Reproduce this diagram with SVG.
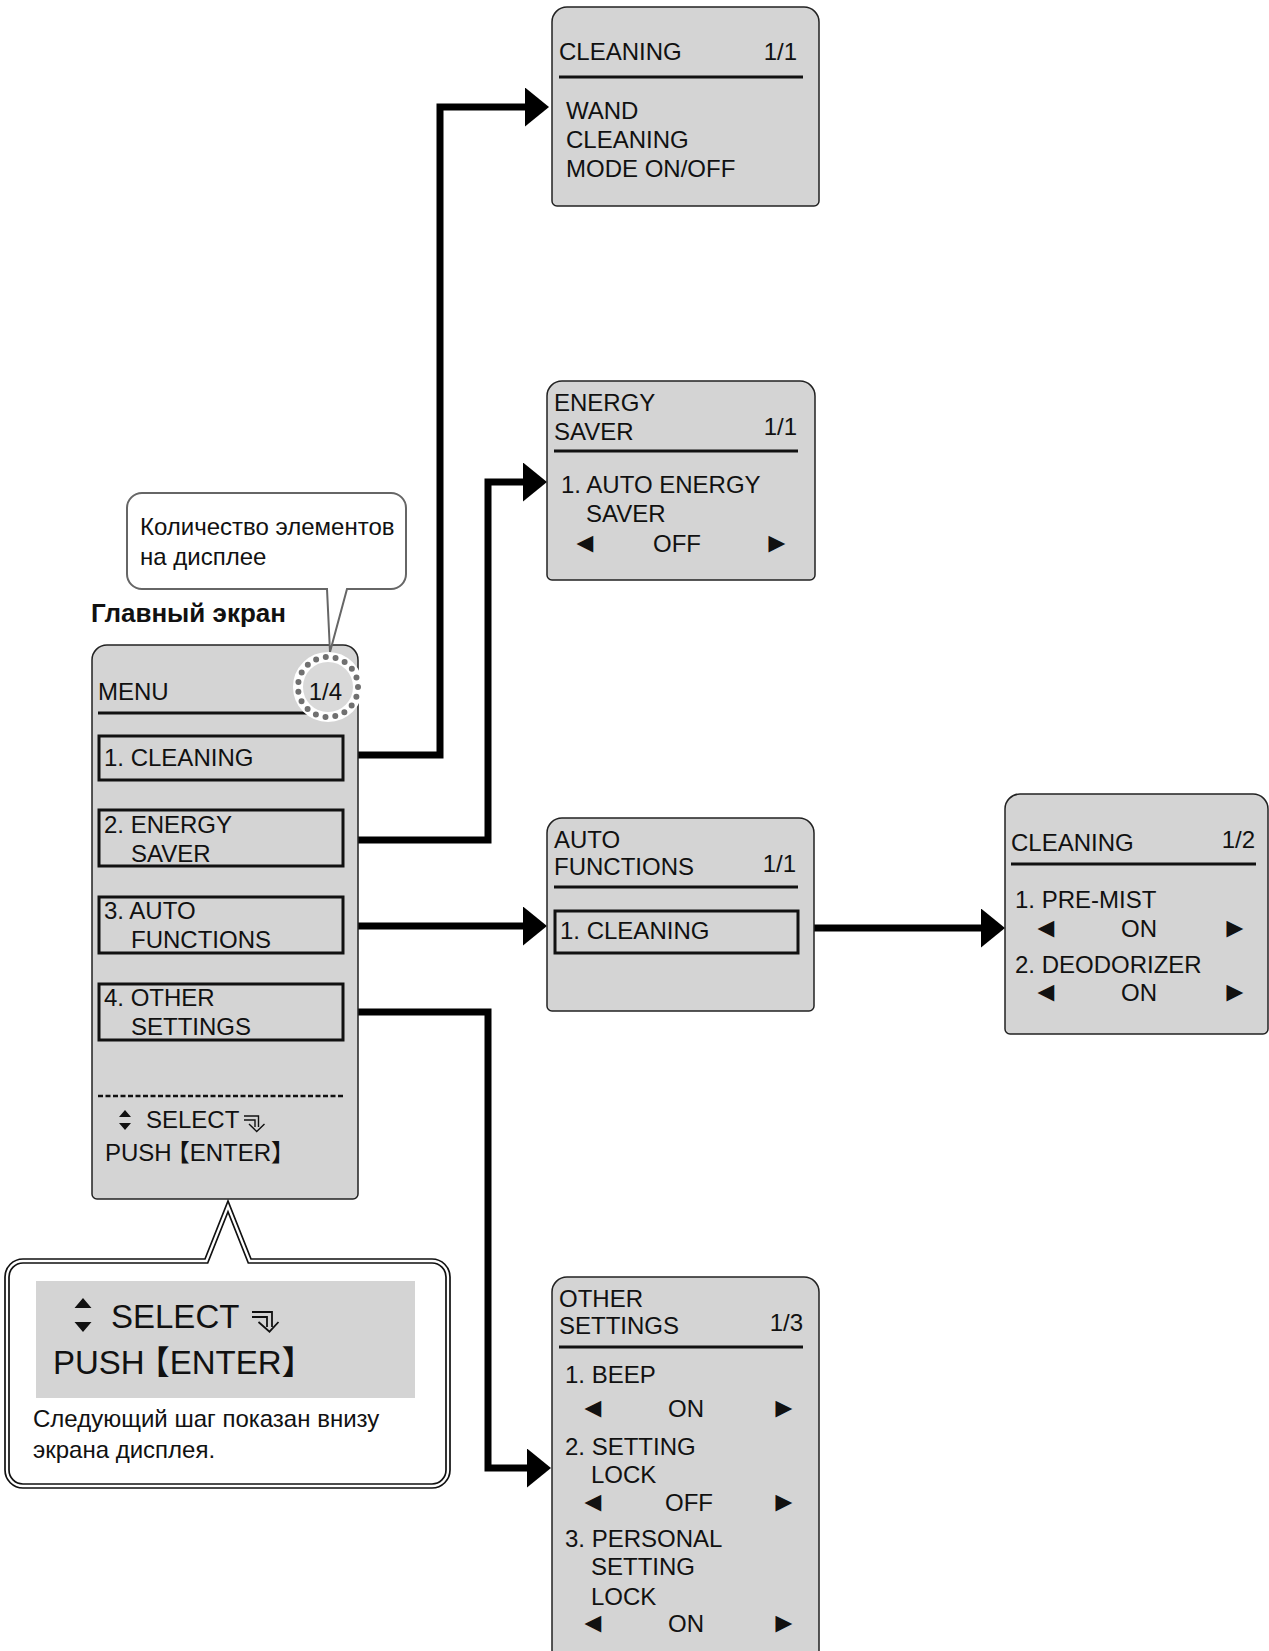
<svg xmlns="http://www.w3.org/2000/svg" width="1269" height="1651" viewBox="0 0 1269 1651">
<style>
.bg{fill:#ffffff}
.box{fill:#d4d4d4;stroke:#222;stroke-width:1.5}
.t{font-family:"Liberation Sans","Noto Sans CJK JP",sans-serif;font-size:24px;fill:#111}
.tri{font-family:"Liberation Sans","DejaVu Sans",sans-serif;font-size:28px;fill:#111}
.tb{font-family:"Liberation Sans",sans-serif;font-size:26px;font-weight:bold;fill:#111}
.tc{font-family:"Liberation Sans",sans-serif;font-size:24px;fill:#111}
.big{font-family:"Liberation Sans","Noto Sans CJK JP",sans-serif;font-size:33px;fill:#111}
.end{text-anchor:end}
.ul{stroke:#111;stroke-width:3}
.item{fill:none;stroke:#111;stroke-width:3}
.conn{fill:none;stroke:#000;stroke-width:7;stroke-linejoin:miter}
.ico{fill:none;stroke:#111;stroke-width:1.4}
.dbl{stroke:#111;stroke-width:1.7}
</style>
<defs>
<marker id="ah" markerUnits="userSpaceOnUse" markerWidth="25" markerHeight="40" refX="0" refY="19.5" orient="auto">
<path d="M0,0 L24,19.5 L0,39 Z" fill="#000"/>
</marker>
</defs>
<rect class="bg" x="0" y="0" width="1269" height="1651"/>

<g id="connectors">
<path class="conn" d="M358,755 H440 V107 H525" marker-end="url(#ah)"/>
<path class="conn" d="M358,840 H488 V482 H523" marker-end="url(#ah)"/>
<path class="conn" d="M358,926 H523" marker-end="url(#ah)"/>
<path class="conn" d="M358,1012 H488 V1468 H527" marker-end="url(#ah)"/>
<path class="conn" d="M799,928 H981" marker-end="url(#ah)"/>
</g>

<g id="main-screen">
<text class="tb" x="91" y="622">Главный экран</text>
<path class="box" d="M92,660 A15,15 0 0 1 107,645 H343 A15,15 0 0 1 358,660 V1194 A5,5 0 0 1 353,1199 H97 A5,5 0 0 1 92,1194 Z"/>
<text class="t" x="98" y="700">MENU</text>
<line class="ul" x1="98" y1="713" x2="343" y2="713"/>
<rect class="item" x="99" y="736" width="244" height="44"/>
<text class="t" x="104" y="766">1. CLEANING</text>
<rect class="item" x="99" y="810" width="244" height="56"/>
<text class="t" x="104" y="833">2. ENERGY</text>
<text class="t" x="131" y="862">SAVER</text>
<rect class="item" x="99" y="897" width="244" height="56"/>
<text class="t" x="104" y="919">3. AUTO</text>
<text class="t" x="131" y="948">FUNCTIONS</text>
<rect class="item" x="99" y="984" width="244" height="56"/>
<text class="t" x="104" y="1006">4. OTHER</text>
<text class="t" x="131" y="1035">SETTINGS</text>
<line x1="98" y1="1096" x2="343" y2="1096" stroke="#111" stroke-width="2.5" stroke-dasharray="5 2.5"/>
<path d="M125,1110 L131,1117 H119 Z M119,1123 H131 L125,1130 Z" fill="#111"/>
<text class="t" x="146" y="1128">SELECT</text>
<path class="ico" d="M244,1116 H258.5 V1127 M244,1120 H255 V1127 M249,1124 L256.7,1131.5 L264.5,1124"/>
<text class="t" x="105" y="1161">PUSH<tspan dx="-6">【ENTER】</tspan></text>
</g>

<g id="count-callout">
<path d="M142,493 H391 A15,15 0 0 1 406,508 V574 A15,15 0 0 1 391,589 H347 L330,652 L327,589 H142 A15,15 0 0 1 127,574 V508 A15,15 0 0 1 142,493 Z" fill="#fff" stroke="#666" stroke-width="2"/>
<text class="tc" x="140" y="535">Количество элементов</text>
<text class="tc" x="140" y="565">на дисплее</text>
<circle cx="328" cy="687" r="30" fill="#d9d9d9" stroke="#fff" stroke-width="10"/>
<circle cx="328" cy="687" r="30" fill="none" stroke="#707070" stroke-width="6" stroke-linecap="round" stroke-dasharray="0 9.92"/>
<text class="t end" x="342" y="700">1/4</text>
</g>

<g id="cleaning-1-1">
<path class="box" d="M552,22 A15,15 0 0 1 567,7 H804 A15,15 0 0 1 819,22 V201 A5,5 0 0 1 814,206 H557 A5,5 0 0 1 552,201 Z"/>
<text class="t" x="559" y="60">CLEANING</text>
<text class="t end" x="797" y="60">1/1</text>
<line class="ul" x1="559" y1="77" x2="803" y2="77"/>
<text class="t" x="566" y="119">WAND</text>
<text class="t" x="566" y="148">CLEANING</text>
<text class="t" x="566" y="177">MODE ON/OFF</text>
</g>

<g id="energy-saver">
<path class="box" d="M547,396 A15,15 0 0 1 562,381 H800 A15,15 0 0 1 815,396 V575 A5,5 0 0 1 810,580 H552 A5,5 0 0 1 547,575 Z"/>
<text class="t" x="554" y="411">ENERGY</text>
<text class="t" x="554" y="440">SAVER</text>
<text class="t end" x="797" y="435">1/1</text>
<line class="ul" x1="554" y1="451" x2="798" y2="451"/>
<text class="t" x="561" y="493">1. AUTO ENERGY</text>
<text class="t" x="586" y="522">SAVER</text>
<text class="tri" x="571" y="552">◄</text>
<text class="t" x="653" y="552">OFF</text>
<text class="tri" x="763" y="552">►</text>
</g>

<g id="auto-functions">
<path class="box" d="M547,833 A15,15 0 0 1 562,818 H799 A15,15 0 0 1 814,833 V1006 A5,5 0 0 1 809,1011 H552 A5,5 0 0 1 547,1006 Z"/>
<text class="t" x="554" y="848">AUTO</text>
<text class="t" x="554" y="875">FUNCTIONS</text>
<text class="t end" x="796" y="872">1/1</text>
<line class="ul" x1="554" y1="887" x2="798" y2="887"/>
<rect class="item" x="555" y="911" width="243" height="42"/>
<text class="t" x="560" y="939">1. CLEANING</text>
</g>

<g id="cleaning-1-2">
<path class="box" d="M1005,809 A15,15 0 0 1 1020,794 H1253 A15,15 0 0 1 1268,809 V1029 A5,5 0 0 1 1263,1034 H1010 A5,5 0 0 1 1005,1029 Z"/>
<text class="t" x="1011" y="851">CLEANING</text>
<text class="t end" x="1255" y="848">1/2</text>
<line class="ul" x1="1011" y1="864" x2="1256" y2="864"/>
<text class="t" x="1015" y="908">1. PRE-MIST</text>
<text class="tri" x="1032" y="937">◄</text>
<text class="t" x="1121" y="937">ON</text>
<text class="tri" x="1221" y="937">►</text>
<text class="t" x="1015" y="973">2. DEODORIZER</text>
<text class="tri" x="1032" y="1001">◄</text>
<text class="t" x="1121" y="1001">ON</text>
<text class="tri" x="1221" y="1001">►</text>
</g>

<g id="other-settings">
<path class="box" d="M552,1292 A15,15 0 0 1 567,1277 H804 A15,15 0 0 1 819,1292 V1660 H552 Z"/>
<text class="t" x="559" y="1307">OTHER</text>
<text class="t" x="559" y="1334">SETTINGS</text>
<text class="t end" x="803" y="1331">1/3</text>
<line class="ul" x1="559" y1="1347" x2="803" y2="1347"/>
<text class="t" x="565" y="1383">1. BEEP</text>
<text class="tri" x="579" y="1417">◄</text>
<text class="t" x="668" y="1417">ON</text>
<text class="tri" x="770" y="1417">►</text>
<text class="t" x="565" y="1455">2. SETTING</text>
<text class="t" x="591" y="1483">LOCK</text>
<text class="tri" x="579" y="1511">◄</text>
<text class="t" x="665" y="1511">OFF</text>
<text class="tri" x="770" y="1511">►</text>
<text class="t" x="565" y="1547">3. PERSONAL</text>
<text class="t" x="591" y="1575">SETTING</text>
<text class="t" x="591" y="1605">LOCK</text>
<text class="tri" x="579" y="1632">◄</text>
<text class="t" x="668" y="1632">ON</text>
<text class="tri" x="770" y="1632">►</text>
</g>

<g id="next-step-callout">
<path class="dbl" fill="#fff" d="M23,1259 H205 L228,1201 L251,1259 H432 A18,18 0 0 1 450,1277 V1470 A18,18 0 0 1 432,1488 H23 A18,18 0 0 1 5,1470 V1277 A18,18 0 0 1 23,1259 Z"/>
<path class="dbl" fill="none" d="M23,1263 H207.7 L228,1211.8 L248.3,1263 H432 A14,14 0 0 1 446,1277 V1470 A14,14 0 0 1 432,1484 H23 A14,14 0 0 1 9,1470 V1277 A14,14 0 0 1 23,1263 Z"/>
<rect x="36" y="1281" width="379" height="117" fill="#d4d4d4"/>
<path d="M83,1298 L91.5,1308 H74.5 Z M74.5,1322 H91.5 L83,1332 Z" fill="#111"/>
<text class="big" x="111" y="1328">SELECT</text>
<path d="M252,1312 H272 V1327 M252,1317 H267 V1327 M258.5,1322 L269.5,1331.7 L278.5,1322" fill="none" stroke="#111" stroke-width="1.8"/>
<text class="big" x="53" y="1374">PUSH<tspan dx="-8">【ENTER】</tspan></text>
<text class="tc" x="33" y="1427">Следующий шаг показан внизу</text>
<text class="tc" x="33" y="1458">экрана дисплея.</text>
</g>
</svg>
